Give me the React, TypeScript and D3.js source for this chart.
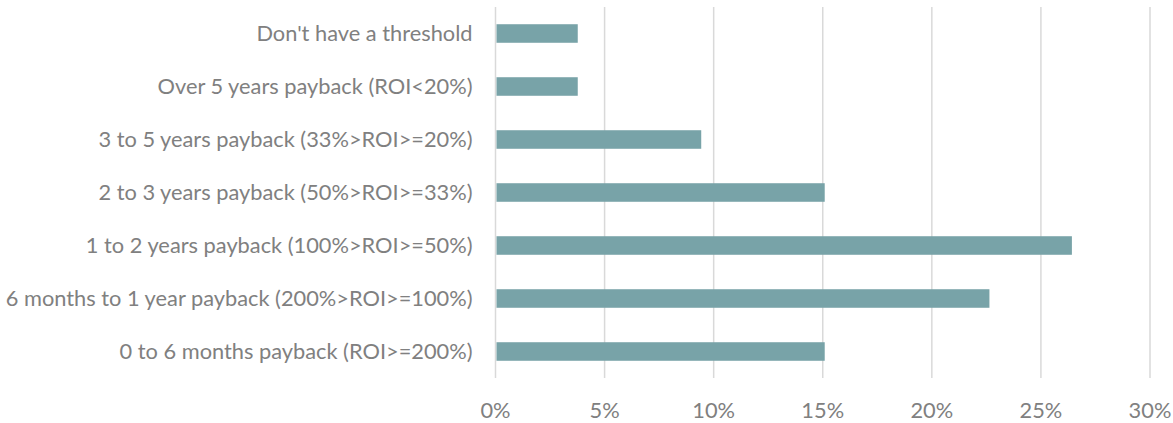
import { useEffect, useRef } from 'react'
import * as d3 from 'd3'

// categories, top to bottom
const categories = [
  "Don't have a threshold",
  'Over 5 years payback (ROI<20%)',
  '3 to 5 years payback (33%>ROI>=20%)',
  '2 to 3 years payback (50%>ROI>=33%)',
  '1 to 2 years payback (100%>ROI>=50%)',
  '6 months to 1 year payback (200%>ROI>=100%)',
  '0 to 6 months payback (ROI>=200%)'
]
const shares = [0.0377, 0.0377, 0.0943, 0.1509, 0.2642, 0.2264, 0.1509]
const xTicks = [0, 0.05, 0.1, 0.15, 0.2, 0.25, 0.3]

const width = 1173
const height = 423
const margin = { top: 7, right: 23, bottom: 45, left: 495.5 }
const font = 'Lato, "Open Sans", sans-serif'

export default function App() {
  const svgRef = useRef<SVGSVGElement>(null)

  useEffect(() => {
    if (!svgRef.current) return
    d3.select(svgRef.current).selectAll('*').remove()

    const innerWidth = width - margin.left - margin.right
    const innerHeight = height - margin.top - margin.bottom

    const svg = d3.select(svgRef.current)
      .append('g')
      .attr('transform', `translate(${margin.left},${margin.top})`)

    const x = d3.scaleLinear().domain([0, 0.3]).range([0, innerWidth])
    const y = d3.scaleBand<string>()
      .domain(categories)
      .range([0, innerHeight])
      .paddingInner(0.65)
      .paddingOuter(0.325)

    // vertical grid lines
    svg.append('g')
      .selectAll('line')
      .data(xTicks.slice(1))
      .enter()
      .append('line')
      .attr('x1', d => x(d))
      .attr('x2', d => x(d))
      .attr('y1', 0)
      .attr('y2', innerHeight)
      .attr('stroke', '#d9d9d9')
      .attr('stroke-width', 1.5)

    // category axis line
    svg.append('line')
      .attr('x1', 0)
      .attr('x2', 0)
      .attr('y1', 0)
      .attr('y2', innerHeight)
      .attr('stroke', '#d9d9d9')
      .attr('stroke-width', 1.5)

    // bars
    svg.append('g')
      .selectAll('rect')
      .data(categories)
      .enter()
      .append('rect')
      .attr('x', x(0) + 1)
      .attr('y', d => y(d)!)
      .attr('width', (d, i) => x(shares[i]) - x(0) - 1)
      .attr('height', y.bandwidth())
      .attr('fill', '#78a3a8')

    // category labels
    svg.append('g')
      .selectAll('text')
      .data(categories)
      .enter()
      .append('text')
      .attr('x', -23)
      .attr('y', d => y(d)! + y.bandwidth() / 2)
      .attr('dy', '0.35em')
      .attr('text-anchor', 'end')
      .attr('font-family', font)
      .attr('font-size', 21.8)
      .attr('fill', '#808080')
      .text(d => d)

    // x tick labels
    svg.append('g')
      .selectAll('text')
      .data(xTicks)
      .enter()
      .append('text')
      .attr('x', d => x(d))
      .attr('y', innerHeight + 32)
      .attr('dy', '0.35em')
      .attr('text-anchor', 'middle')
      .attr('font-family', font)
      .attr('font-size', 21.8)
      .attr('fill', '#808080')
      .text(d => d3.format('.0%')(d))
  }, [])

  return (
    <svg
      ref={svgRef}
      width={width}
      height={height}
      style={{ position: 'absolute', left: 0, top: 0, background: '#fff' }}
    />
  )
}
